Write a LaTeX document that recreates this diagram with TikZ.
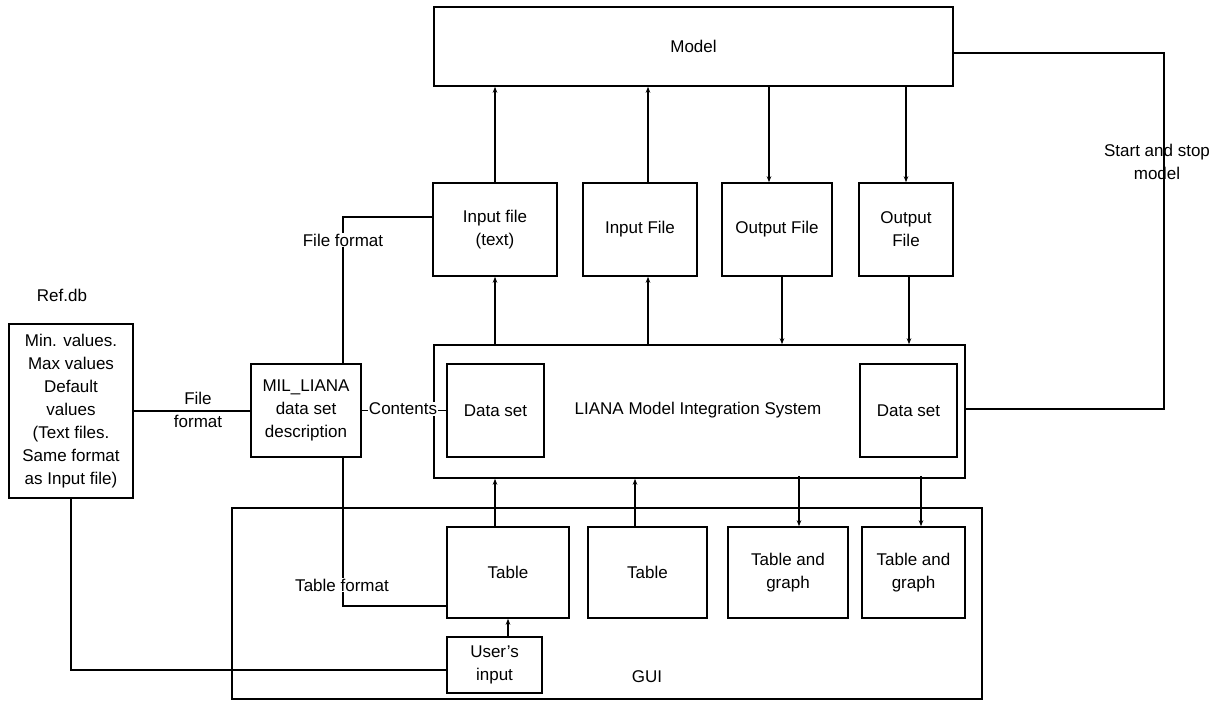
\documentclass[tikz,border=0pt]{standalone}
\usepackage{fontspec}
\setmainfont{Liberation Sans}
\usetikzlibrary{arrows.meta}

\begin{document}
\begin{tikzpicture}[x=1pt,y=-1pt,line width=1.5pt,
	font=\fontsize{17}{23}\selectfont,
	every node/.style={align=center},
	box/.style 2 args={draw,inner sep=1pt,minimum width=#1pt,minimum height=#2pt},
	lbl/.style={fill=white,inner sep=1pt},
	arr/.style={-{Stealth[length=6pt,width=4.5pt]}}]
	\useasboundingbox (0,0) rectangle (1223,702);
	
	% top row
	\node[box={519}{79}] (model) at (693.5,46.5) {Model};
	\node[box={124}{93}] (intxt) at (495,229.5) {Input file\\(text)};
	\node[box={114}{93}] (infile) at (640,229.5) {Input File};
	\node[box={110}{93}] (outfile) at (777,229.5) {Output File};
	\node[box={94}{93}] (outfileb) at (906,229.5) {Output\\File};
	
	% integration system
	\node[box={531}{133}] (liana) at (699.5,411.5) {};
	\node (lianatxt) at (698,410) {LIANA Model Integration System};
	\node[box={97}{93}] (dsa) at (495.5,410.5) {Data set};
	\node[box={97}{93}] (dsb) at (908.5,410.5) {Data set};
	
	% gui
	\node[box={750}{191}] (gui) at (607,603.5) {};
	\node (guitxt) at (647,677) {GUI};
	\node[box={122}{91}] (taba) at (508,572.5) {Table};
	\node[box={119}{91}] (tabb) at (647.5,572.5) {Table};
	\node[box={120}{91}] (tga) at (788,572.5) {Table and\\graph};
	\node[box={103}{91}] (tgb) at (913.5,572.5) {Table and\\graph};
	\node[box={95}{56}] (user) at (494.5,665) {User's\\input};
	
	% left side
	\node (reflbl) at (62,295) {Ref.db};
	\node[box={124}{174}] (refdb) at (71,411) {Min. values.\\Max values\\Default\\values\\(Text files.\\Same format\\as Input file)};
	\node[box={110}{93}] (mil) at (306,410.5) {MIL\_LIANA\\data set\\description};
	
	% files and model
	\draw[arr] (intxt.north) -- (intxt.north |- model.south);
	\draw[arr] (intxt.south |- liana.north) -- (intxt.south);
	\draw[arr] ([xshift=8pt]infile.north) -- ([xshift=8pt]infile.north |- model.south);
	\draw[arr] ([xshift=8pt]infile.south |- liana.north) -- ([xshift=8pt]infile.south);
	\draw[arr] ([xshift=-8pt]outfile.north |- model.south) -- ([xshift=-8pt]outfile.north);
	\draw[arr] ([xshift=5pt]outfile.south) -- ([xshift=5pt]outfile.south |- liana.north);
	\draw[arr] (outfileb.north |- model.south) -- (outfileb.north);
	\draw[arr] ([xshift=3pt]outfileb.south) -- ([xshift=3pt]outfileb.south |- liana.north);
	
	% gui and system
	\draw[arr] ([xshift=-13pt]taba.north) -- ([xshift=-13pt]taba.north |- liana.south);
	\draw[arr] ([xshift=-12.5pt]tabb.north) -- ([xshift=-12.5pt]tabb.north |- liana.south);
	\draw[arr] ([xshift=11pt,yshift=3pt]tga.north |- liana.south) -- ([xshift=11pt]tga.north);
	\draw[arr] ([xshift=7.5pt,yshift=3pt]tgb.north |- liana.south) -- ([xshift=7.5pt]tgb.north);
	\draw[arr] (user.north -| taba.south) -- (taba.south);
	
	% formats
	\coordinate (fmt) at (343,0);
	\coordinate (ssx) at (1164,0);
	\draw (refdb.east) -- (refdb.east -| mil.west);
	\draw (mil.east) -- (mil.east -| dsa.west);
	\draw (mil.north -| fmt) |- ([yshift=12.5pt]intxt.west);
	\draw (mil.south -| fmt) |- ([yshift=-33.5pt]taba.west);
	\draw (refdb.south) |- ([yshift=-5pt]user.west);
	\draw ([yshift=-6.5pt]model.east) -| ([yshift=2.5pt]ssx |- liana.east) -- ([yshift=2.5pt]liana.east);
	
	\node (filefmt) at (198,410) {File\\format};
	\node[lbl] (cont) at (403,409) {Contents};
	\node[lbl] (infmt) at (343,240) {File format};
	\node[lbl] (tabfmt) at (342,585) {Table format};
	\node (sslbl) at (1157,162) {Start and stop\\model};
\end{tikzpicture}
\end{document}
